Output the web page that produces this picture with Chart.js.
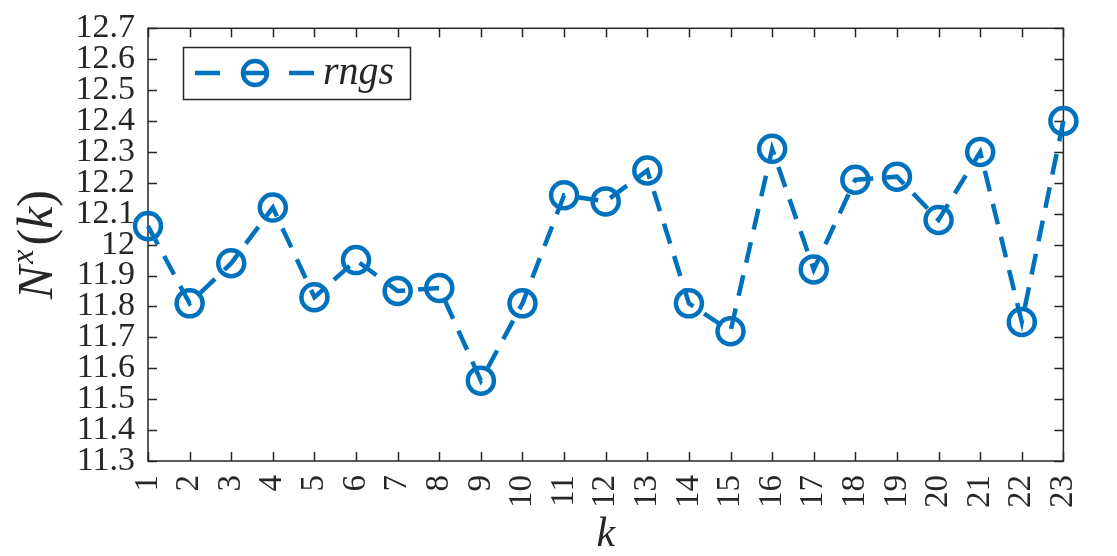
<!DOCTYPE html>
<html>
<head>
<meta charset="utf-8">
<script src="https://cdn.jsdelivr.net/npm/chart.js@4.4.1/dist/chart.umd.min.js"></script>
<style>
  html, body { margin: 0; padding: 0; background: #fff; }
  canvas { display: block; }
</style>
</head>
<body>
<canvas id="mychart" width="1117" height="556"></canvas>
<script>
// data
var categories = ['1', '2', '3', '4', '5', '6', '7', '8', '9', '10', '11', '12',
    '13', '14', '15', '16', '17', '18', '19', '20', '21', '22', '23'];
var rngs = [12.06, 11.81, 11.94, 12.12, 11.83, 11.95, 11.85, 11.86, 11.56, 11.81, 12.16, 12.14,
    12.24, 11.81, 11.72, 12.31, 11.92, 12.21, 12.22, 12.08, 12.30, 11.75, 12.40];
var yTicks = [11.3, 11.4, 11.5, 11.6, 11.7, 11.8, 11.9, 12, 12.1, 12.2, 12.3, 12.4, 12.5, 12.6, 12.7];

var blue = '#0072BD';
var ink = '#262626';
var serif = "'Liberation Serif', 'Times New Roman', Times, serif";

// MATLAB style box with inward ticks
var boxPlugin = {
    id: 'box',
    beforeDatasetsDraw: function (chart) {
        var ctx = chart.ctx;
        var a = chart.chartArea;
        var x = chart.scales.x, y = chart.scales.y;
        var len = 9;
        ctx.save();
        ctx.strokeStyle = ink;
        ctx.lineWidth = 1.5;
        ctx.strokeRect(a.left, a.top, a.right - a.left, a.bottom - a.top);
        ctx.beginPath();
        for (var i = 0; i < categories.length; i++) {
            var px = Math.round(x.getPixelForValue(i)) + 0.5;
            ctx.moveTo(px, a.bottom); ctx.lineTo(px, a.bottom - len);
            ctx.moveTo(px, a.top); ctx.lineTo(px, a.top + len);
        }
        for (var j = 0; j < yTicks.length; j++) {
            var py = Math.round(y.getPixelForValue(yTicks[j])) + 0.5;
            ctx.moveTo(a.left, py); ctx.lineTo(a.left + len, py);
            ctx.moveTo(a.right, py); ctx.lineTo(a.right - len, py);
        }
        ctx.stroke();
        ctx.restore();
    },
    afterDraw: function (chart) {
        var ctx = chart.ctx;
        var a = chart.chartArea;
        ctx.save();

        // y axis title N^x(k)
        ctx.translate(36, (a.top + a.bottom) / 2);
        ctx.rotate(-Math.PI / 2);
        ctx.fillStyle = ink;
        ctx.textBaseline = 'alphabetic';
        var big = 'italic 50px ' + serif, up = '50px ' + serif, sup = 'italic 32px ' + serif;
        ctx.font = big; var wN = ctx.measureText('N').width; var wk = ctx.measureText('k').width;
        ctx.font = sup; var wx = ctx.measureText('x').width;
        ctx.font = up; var wp = ctx.measureText('(').width;
        var total = wN + wx + 6 + wp * 2 + wk;
        var cx = -total / 2, base = 16;
        ctx.font = big; ctx.fillText('N', cx, base); cx += wN + 2;
        ctx.font = sup; ctx.fillText('x', cx, base - 19); cx += wx + 4;
        ctx.font = up; ctx.fillText('(', cx, base); cx += wp;
        ctx.font = big; ctx.fillText('k', cx, base); cx += wk;
        ctx.font = up; ctx.fillText(')', cx, base);
        ctx.restore();

        // legend
        ctx.save();
        ctx.fillStyle = '#fff';
        ctx.fillRect(183.5, 47.5, 227, 52);
        ctx.strokeStyle = ink;
        ctx.lineWidth = 1.5;
        ctx.strokeRect(183.5, 47.5, 227, 52);
        var ly = 73;
        ctx.strokeStyle = blue;
        ctx.lineWidth = 4.5;
        ctx.beginPath();
        ctx.moveTo(195, ly); ctx.lineTo(220, ly);
        ctx.moveTo(243, ly); ctx.lineTo(267, ly);
        ctx.moveTo(289, ly); ctx.lineTo(314, ly);
        ctx.stroke();
        ctx.beginPath();
        ctx.arc(255, ly, 12, 0, Math.PI * 2);
        ctx.stroke();
        ctx.fillStyle = ink;
        ctx.font = 'italic 40px ' + serif;
        ctx.textBaseline = 'middle';
        ctx.fillText('rngs', 323, ly);
        ctx.restore();
    }
};

var ctx = document.getElementById('mychart').getContext('2d');
var myChart = new Chart(ctx, {
    type: 'line',
    data: {
        labels: categories,
        datasets: [{
            label: 'rngs',
            data: rngs,
            borderColor: blue,
            backgroundColor: 'rgba(0,0,0,0)',
            borderWidth: 4.5,
            borderDash: [21, 13],
            pointRadius: 13,
            pointHoverRadius: 13,
            pointBorderWidth: 4.5,
            pointBorderColor: blue,
            pointBackgroundColor: 'rgba(0,0,0,0)',
            tension: 0,
            clip: false
        }]
    },
    options: {
        responsive: false,
        animation: false,
        devicePixelRatio: 1,
        layout: { padding: { top: 27, right: 19, left: 0, bottom: 0 } },
        plugins: {
            legend: { display: false },
            tooltip: { enabled: false }
        },
        scales: {
            x: {
                offset: false,
                grid: { display: false, drawTicks: false },
                border: { display: false },
                ticks: {
                    color: ink,
                    font: { family: serif, size: 33 },
                    autoSkip: false,
                    minRotation: 90,
                    maxRotation: 90,
                    padding: 14
                },
                title: {
                    display: true,
                    text: 'k',
                    color: ink,
                    font: { family: serif, size: 42, style: 'italic', lineHeight: 1 },
                    padding: { top: 0, bottom: 0 }
                },
                afterFit: function (scale) { scale.height = 95; }
            },
            y: {
                min: 11.3,
                max: 12.7,
                grid: { display: false, drawTicks: false },
                border: { display: false },
                afterBuildTicks: function (scale) {
                    scale.ticks = yTicks.map(function (v) { return { value: v }; });
                },
                ticks: {
                    color: ink,
                    font: { family: serif, size: 34, lineHeight: 0.9 },
                    autoSkip: false,
                    padding: 13,
                    callback: function (v) { return String(Number(v.toFixed(1))); }
                },
                afterFit: function (scale) { scale.width = 148; }
            }
        }
    },
    plugins: [boxPlugin]
});
</script>
</body>
</html>
